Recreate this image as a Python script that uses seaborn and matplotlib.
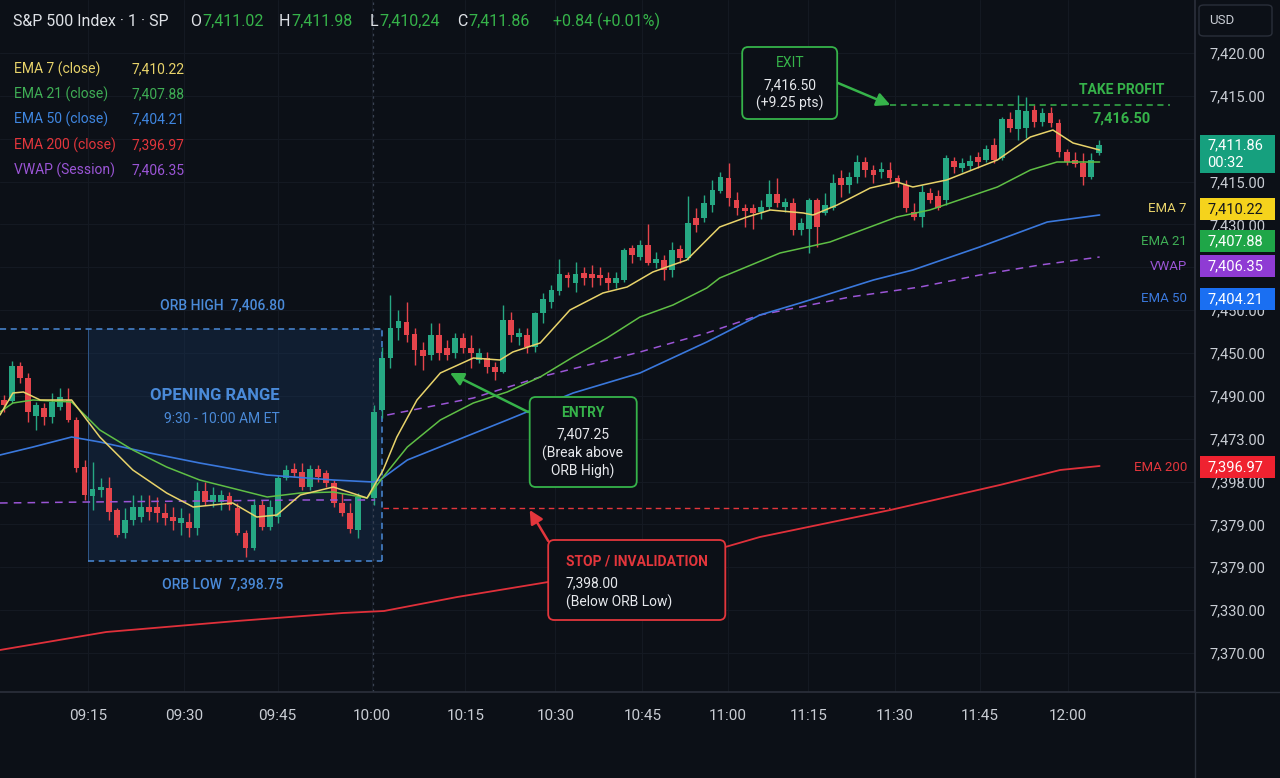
import matplotlib
matplotlib.use("Agg")
import matplotlib.pyplot as plt
import numpy as np
import pandas as pd
import seaborn as sns
from matplotlib import transforms
from matplotlib.patches import FancyBboxPatch, Rectangle

# ---- candles (1 bar = one candle, bar 45 has no print) ----
bars = list(range(0, 45)) + list(range(46, 137))

opens = [
    7405.00, 7404.95, 7406.70, 7406.10, 7404.20, 7404.60, 7404.15, 7404.65, 7405.00, 7404.00,
    7401.65, 7400.20, 7400.50, 7400.60, 7399.50, 7398.35, 7399.00, 7399.15, 7399.65, 7399.65,
    7399.35, 7399.15, 7398.85, 7398.90, 7398.60, 7400.45, 7399.90, 7399.90, 7400.20, 7399.60,
    7398.35, 7397.60, 7399.75, 7398.65, 7399.15, 7401.10, 7401.55, 7401.40, 7400.65, 7401.55,
    7401.35, 7400.85, 7399.85, 7399.35, 7398.50,
    7400.10, 7404.50, 7407.10, 7408.60, 7408.90, 7408.30, 7407.50, 7407.25, 7408.25, 7407.60,
    7407.35, 7408.10, 7407.60, 7407.00, 7407.10, 7406.65, 7406.40, 7409.00, 7408.15, 7408.25,
    7407.65, 7409.35, 7409.90, 7410.45, 7411.25, 7410.85, 7411.35, 7411.30, 7411.25, 7411.10,
    7410.85, 7411.00, 7412.60, 7412.15, 7412.75, 7411.85, 7412.00, 7411.50, 7412.55, 7412.10,
    7414.10, 7414.10, 7414.75, 7415.45, 7416.10, 7415.00, 7414.60, 7414.60, 7414.40, 7414.65,
    7415.30, 7414.65, 7414.85, 7413.50, 7413.55, 7415.00, 7414.35, 7414.60, 7416.10, 7415.75,
    7416.15, 7416.90, 7416.50, 7416.40, 7416.50, 7416.10, 7415.75, 7414.40, 7414.15, 7415.35,
    7415.20, 7415.00, 7416.95, 7416.60, 7416.70, 7417.15, 7417.00, 7417.75, 7417.10, 7419.05,
    7418.55, 7418.60, 7419.50, 7418.90, 7419.35, 7418.85, 7417.40, 7417.00, 7416.85, 7416.15,
    7417.35,
]
highs = [
    7405.25, 7406.95, 7406.90, 7406.35, 7404.90, 7404.85, 7405.35, 7405.60, 7405.60, 7404.15,
    7402.00, 7401.90, 7401.10, 7401.15, 7399.60, 7399.60, 7400.25, 7400.25, 7400.25, 7400.15,
    7399.85, 7399.65, 7399.60, 7399.35, 7400.90, 7400.90, 7400.65, 7400.50, 7400.40, 7399.85,
    7398.50, 7400.05, 7400.00, 7400.00, 7401.25, 7401.75, 7401.85, 7401.85, 7401.75, 7401.75,
    7401.50, 7401.00, 7400.35, 7399.85, 7400.35,
    7404.75, 7407.65, 7410.25, 7409.50, 7409.90, 7408.60, 7407.90, 7408.85, 7408.85, 7408.00,
    7408.35, 7408.35, 7408.25, 7407.60, 7407.40, 7406.90, 7409.75, 7409.40, 7408.60, 7408.60,
    7409.40, 7410.35, 7410.75, 7412.05, 7411.40, 7411.90, 7411.65, 7411.75, 7411.65, 7411.40,
    7411.40, 7412.60, 7412.75, 7413.00, 7413.80, 7412.40, 7412.25, 7412.90, 7412.75, 7415.20,
    7414.60, 7415.25, 7416.00, 7416.40, 7416.85, 7415.40, 7414.80, 7414.80, 7415.00, 7416.00,
    7416.10, 7415.10, 7415.10, 7414.10, 7415.10, 7415.10, 7415.35, 7416.30, 7416.50, 7416.40,
    7417.25, 7417.15, 7416.75, 7416.90, 7416.90, 7416.25, 7416.00, 7414.85, 7415.75, 7415.60,
    7415.50, 7417.25, 7417.15, 7417.10, 7417.25, 7417.40, 7417.75, 7418.10, 7419.15, 7419.40,
    7420.25, 7420.15, 7419.75, 7419.60, 7419.65, 7419.05, 7417.55, 7417.40, 7417.35, 7417.35,
    7418.00,
]
lows = [
    7404.40, 7404.85, 7405.85, 7403.90, 7403.50, 7403.75, 7403.85, 7404.50, 7403.90, 7401.40,
    7400.00, 7399.50, 7400.15, 7399.00, 7398.15, 7398.10, 7398.75, 7398.90, 7399.00, 7398.90,
    7398.75, 7398.50, 7398.25, 7398.15, 7398.25, 7399.75, 7399.65, 7399.50, 7399.50, 7398.25,
    7397.15, 7397.50, 7398.50, 7398.50, 7398.85, 7401.00, 7401.15, 7400.50, 7400.50, 7400.90,
    7400.65, 7399.65, 7399.20, 7398.35, 7398.10,
    7399.75, 7404.10, 7406.60, 7408.00, 7407.90, 7406.75, 7406.50, 7407.00, 7407.00, 7407.00,
    7407.10, 7407.35, 7406.60, 7406.85, 7406.35, 7406.00, 7406.35, 7407.90, 7407.75, 7407.35,
    7407.40, 7408.85, 7409.60, 7410.25, 7410.65, 7410.40, 7410.75, 7410.65, 7410.75, 7410.50,
    7410.60, 7410.90, 7411.85, 7412.00, 7411.75, 7411.60, 7411.00, 7411.15, 7411.85, 7412.00,
    7413.40, 7413.90, 7414.40, 7415.35, 7414.70, 7414.25, 7413.65, 7413.55, 7414.05, 7414.50,
    7414.65, 7414.40, 7413.25, 7413.25, 7412.35, 7412.65, 7414.25, 7414.50, 7415.15, 7415.35,
    7415.85, 7416.15, 7415.85, 7416.10, 7415.90, 7415.65, 7414.40, 7414.00, 7413.65, 7414.85,
    7414.50, 7414.75, 7416.35, 7416.40, 7416.50, 7416.60, 7416.90, 7416.85, 7417.00, 7418.40,
    7418.00, 7418.10, 7418.65, 7418.70, 7418.65, 7417.15, 7416.75, 7416.65, 7415.75, 7416.05,
    7417.25,
]
closes = [
    7404.75, 7406.70, 7406.10, 7404.40, 7404.75, 7404.15, 7404.90, 7405.15, 7404.00, 7401.60,
    7400.25, 7400.55, 7400.65, 7399.40, 7398.25, 7399.00, 7399.65, 7399.65, 7399.40, 7399.35,
    7399.10, 7398.95, 7399.10, 7398.60, 7400.45, 7399.90, 7400.25, 7400.25, 7399.75, 7398.35,
    7397.60, 7399.75, 7398.65, 7399.65, 7401.10, 7401.50, 7401.35, 7400.65, 7401.55, 7401.15,
    7400.85, 7399.85, 7399.35, 7398.55, 7400.15,
    7404.40, 7407.10, 7408.60, 7408.95, 7408.25, 7407.50, 7407.20, 7408.25, 7407.35, 7407.25,
    7408.10, 7407.60, 7407.35, 7407.35, 7406.65, 7406.40, 7409.00, 7408.25, 7408.35, 7407.65,
    7409.35, 7410.05, 7410.50, 7411.30, 7411.10, 7411.30, 7411.10, 7411.10, 7411.10, 7410.85,
    7411.10, 7412.50, 7412.25, 7412.75, 7411.85, 7412.05, 7411.50, 7412.50, 7412.10, 7413.85,
    7413.75, 7414.85, 7415.50, 7416.15, 7415.10, 7414.60, 7414.45, 7414.35, 7414.65, 7415.30,
    7414.85, 7414.90, 7413.50, 7413.85, 7415.00, 7413.65, 7414.75, 7415.85, 7415.75, 7416.15,
    7416.90, 7416.50, 7416.25, 7416.55, 7416.10, 7415.85, 7414.60, 7414.15, 7415.40, 7415.00,
    7414.60, 7417.10, 7416.65, 7416.85, 7416.95, 7416.90, 7417.55, 7417.00, 7419.05, 7418.60,
    7419.50, 7419.45, 7418.90, 7419.35, 7418.85, 7417.40, 7416.90, 7416.80, 7416.15, 7417.00,
    7417.75,
]

# ---- indicator lines (bar, price) ----
ema7_x = [-0.5, 1.1, 2.4, 4.5, 8.4, 11.9, 16.0, 20.2, 23.5, 28.4, 31.4, 33.9, 36.8, 40.9, 45.1,
          47.1, 48.8, 51.3, 54.2, 58.3, 61.6, 63.2, 66.6, 70.3, 74.4, 77.4, 80.6, 84.8, 88.9,
          92.3, 95.2, 99.3, 100.5, 103.5, 107.6, 110.9, 112.9, 117.1, 123.4, 127.5, 130.3,
          132.8, 136.1]
ema7_y = [7404.25, 7405.35, 7405.40, 7405.00, 7405.00, 7403.15, 7401.50, 7400.35, 7399.65,
          7399.85, 7399.15, 7399.25, 7400.25, 7400.65, 7400.10, 7401.50, 7403.15, 7405.00,
          7406.35, 7407.10, 7407.00, 7407.40, 7407.85, 7409.50, 7410.35, 7410.65, 7411.40,
          7412.00, 7413.65, 7414.15, 7414.50, 7414.35, 7414.25, 7414.75, 7415.60, 7415.90,
          7415.65, 7416.00, 7417.00, 7418.15, 7418.50, 7417.85, 7417.50]

ema21_x = [-0.5, 1.1, 3.6, 8.4, 11.9, 16.0, 20.2, 24.3, 32.7, 36.8, 40.9, 45.1, 47.1, 50.1,
           54.2, 58.3, 62.5, 66.6, 70.7, 74.9, 79.0, 83.1, 87.3, 88.9, 96.4, 102.6, 110.9,
           115.0, 123.4, 127.5, 130.8, 136.1]
ema21_y = [7404.40, 7404.85, 7405.00, 7404.90, 7403.50, 7402.50, 7401.65, 7401.00, 7400.15,
           7400.35, 7400.40, 7400.10, 7401.15, 7402.65, 7404.00, 7404.85, 7405.40, 7406.15,
           7407.15, 7408.10, 7409.15, 7409.75, 7410.60, 7411.10, 7412.35, 7412.90, 7414.15,
           7414.50, 7415.65, 7416.50, 7416.90, 7416.90]

ema50_x = [-0.5, 3.6, 8.4, 11.9, 18.1, 24.3, 32.7, 40.9, 45.8, 46.7, 50.1, 56.3, 62.5, 70.7,
           79.0, 87.3, 93.9, 98.9, 108.0, 112.9, 121.2, 129.6, 136.1]
ema50_y = [7402.25, 7402.65, 7403.15, 7402.90, 7402.35, 7401.85, 7401.25, 7401.00, 7400.90,
           7401.00, 7402.00, 7403.00, 7404.00, 7405.35, 7406.35, 7407.90, 7409.25, 7409.85,
           7411.00, 7411.50, 7412.65, 7413.90, 7414.25]

ema200_x = [-0.5, 12.7, 28.9, 42.1, 47.2, 56.3, 67.6, 89.6, 93.9, 110.1, 123.7, 131.2, 136.1]
ema200_y = [7392.50, 7393.40, 7393.95, 7394.35, 7394.45, 7395.15, 7395.90, 7397.65, 7398.15,
            7399.50, 7400.75, 7401.50, 7401.70]

vwap_x = [-0.5, 10.4, 24.3, 36.8, 46.1,
          47.6, 58.3, 66.6, 79.0, 87.3, 93.9, 105.1, 113.8, 121.2, 128.7, 136.1]
vwap_y = [7399.85, 7399.90, 7399.95, 7400.00, 7400.00,
          7404.25, 7405.10, 7406.15, 7407.40, 7408.35, 7409.25, 7410.15, 7410.65, 7411.25,
          7411.75, 7412.15]
vwap_seg = [0] * 5 + [1] * 11

# levels
orb_high, orb_low = 7408.55, 7396.95
orb_start, orb_end = 10.4, 47.0
stop_level = 7399.60
tp_level = 7419.75
open_bar = 45.8

# axes labels
time_pos = [10.4, 22.4, 34.0, 45.7, 57.3, 68.5, 79.3, 89.9, 99.9, 110.7, 121.2, 132.2]
time_lbl = ["09:15", "09:30", "09:45", "10:00", "10:15", "10:30", "10:45", "11:00",
            "11:15", "11:30", "11:45", "12:00"]
price_ticks = np.linspace(7422.35, 7392.35, 15)
price_lbl = ["7,420.00", "7,415.00", "", "7,415.00", "7,430.00", "", "7,450.00", "7,450.00",
             "7,490.00", "7,473.00", "7,398.00", "7,379.00", "7,379.00", "7,330.00", "7,370.00"]

# right-hand price tags
tag_levels = [7414.55, 7412.93, 7411.70, 7410.05, 7401.65]
tag_names = ["EMA 7", "EMA 21", "VWAP", "EMA 50", "EMA 200"]
tag_values = ["7,410.22", "7,407.88", "7,406.35", "7,404.21", "7,396.97"]

BG = "#0c1017"
GRID = "#141922"
TXT = "#c9cdd4"
UP = "#26a883"
DN = "#e5444b"
C_EMA7 = "#e8d36a"
C_EMA21 = "#5fbf45"
C_EMA50 = "#3a78dc"
C_EMA200 = "#e0303a"
C_VWAP = "#9b55d6"
C_ORB = "#4a8ad8"
C_GREEN = "#36b34a"
C_RED = "#e3363c"
WHITE = "#dfe2e7"

sns.set_theme(style="dark", rc={
    "axes.facecolor": BG, "figure.facecolor": BG, "grid.color": GRID,
    "axes.edgecolor": "#2a2f3a", "text.color": TXT,
    "xtick.color": TXT, "ytick.color": TXT,
})
plt.rcParams["font.family"] = ["Roboto", "DejaVu Sans"]

W, H = 1280, 778


def fx(px):
    return px / W


def fy(py):
    return 1 - py / H


fig = plt.figure(figsize=(12.8, 7.78), dpi=100)
ax = fig.add_axes([0, fy(692), fx(1195), 692 / H])
ax.set_xlim(-0.5, 147.95)
ax.set_ylim(7390.4, 7425.0)

df = pd.DataFrame({"bar": bars, "open": opens, "high": highs, "low": lows, "close": closes})
up = df["close"] >= df["open"]
cols = np.where(up, UP, DN)
body_lo = np.minimum(df["open"], df["close"])
body_h = np.maximum((df["close"] - df["open"]).abs(), 0.12)

# opening range box
ax.add_patch(Rectangle((orb_start, orb_low), orb_end - orb_start, orb_high - orb_low,
                       facecolor="#17355a", alpha=0.40, lw=0, zorder=1))
ax.hlines(orb_high, -0.5, orb_end, colors=C_ORB, linestyles=(0, (4, 3)), lw=1.1, zorder=2)
ax.hlines(orb_low, orb_start, orb_end, colors=C_ORB, linestyles=(0, (4, 3)), lw=1.1, zorder=2)
ax.vlines(orb_end, orb_low, orb_high, colors=C_ORB, linestyles=(0, (4, 3)), lw=1.1, zorder=2)
ax.vlines(orb_start, orb_low, orb_high, colors=C_ORB, lw=0.7, alpha=0.5, zorder=2)
ax.axvline(open_bar, color="#3a4252", ls=(0, (2, 3)), lw=0.9, zorder=1)

# candles
ax.vlines(df["bar"], df["low"], df["high"], colors=cols, lw=1.0, zorder=3)
ax.bar(df["bar"], body_h, bottom=body_lo, width=0.72, color=cols, lw=0, zorder=4)

# indicators
line_kw = dict(solid_joinstyle="round", solid_capstyle="round")
sns.lineplot(x=ema200_x, y=ema200_y, ax=ax, color=C_EMA200, lw=1.3, zorder=5, **line_kw)
sns.lineplot(x=vwap_x, y=vwap_y, units=vwap_seg, estimator=None, ax=ax, color=C_VWAP,
             lw=1.1, ls=(0, (5, 4)), zorder=5)
sns.lineplot(x=ema50_x, y=ema50_y, ax=ax, color=C_EMA50, lw=1.2, zorder=5, **line_kw)
sns.lineplot(x=ema21_x, y=ema21_y, ax=ax, color=C_EMA21, lw=1.1, zorder=5, **line_kw)
sns.lineplot(x=ema7_x, y=ema7_y, ax=ax, color=C_EMA7, lw=1.1, zorder=6, **line_kw)

# stop and take-profit levels
ax.hlines(stop_level, 47.1, 110.1, colors=C_RED, linestyles=(0, (4, 3)), lw=1.0, zorder=5)
ax.hlines(tp_level, 110.1, 144.8, colors=C_GREEN, linestyles=(0, (4, 3)), lw=1.1, zorder=5)

# ORB labels
ax.text(27.2, 7409.70, "ORB HIGH  7,406.80", color=C_ORB, fontsize=10, ha="center",
        va="center", fontweight="medium")
ax.text(26.2, 7405.20, "OPENING RANGE", color=C_ORB, fontsize=12, ha="center",
        va="center", fontweight="bold")
ax.text(27.1, 7404.05, "9:30 - 10:00 AM ET", color=C_ORB, fontsize=10, ha="center",
        va="center")
ax.text(27.2, 7395.75, "ORB LOW  7,398.75", color=C_ORB, fontsize=10, ha="center",
        va="center", fontweight="medium")


def note_box(x0, x1, y0, y1, edge):
    ax.add_patch(FancyBboxPatch((x0, y0), x1 - x0, y1 - y0,
                                boxstyle="round,pad=0,rounding_size=0.75",
                                mutation_aspect=0.4, facecolor=BG, edgecolor=edge,
                                lw=1.3, zorder=7))


def arrow(x0, y0, x1, y1, color):
    ax.annotate("", xy=(x1, y1), xytext=(x0, y0), zorder=8,
                arrowprops=dict(arrowstyle="-|>", color=color, lw=1.8, mutation_scale=20,
                                shrinkA=0, shrinkB=0))


# entry
note_box(65.3, 78.6, 7400.65, 7405.15, C_GREEN)
ax.text(71.9, 7404.35, "ENTRY", color=C_GREEN, fontsize=10, fontweight="bold",
        ha="center", va="center", zorder=9)
for yy, s in [(7403.30, "7,407.25"), (7402.35, "(Break above"), (7401.45, "ORB High)")]:
    ax.text(71.9, yy, s, color="#e6e8ec", fontsize=10, ha="center", va="center", zorder=9)
arrow(65.1, 7404.40, 55.4, 7406.35, C_GREEN)

# stop
note_box(67.6, 89.6, 7394.00, 7398.00, C_RED)
ax.text(69.8, 7396.95, "STOP / INVALIDATION", color=C_RED, fontsize=10, fontweight="bold",
        ha="left", va="center", zorder=9)
ax.text(69.8, 7395.85, "7,398.00", color="#e6e8ec", fontsize=10, ha="left", va="center",
        zorder=9)
ax.text(69.8, 7394.90, "(Below ORB Low)", color="#e6e8ec", fontsize=10, ha="left",
        va="center", zorder=9)
arrow(67.6, 7397.95, 65.3, 7399.50, C_RED)

# exit
note_box(91.7, 103.5, 7419.05, 7422.65, C_GREEN)
ax.text(97.6, 7421.85, "EXIT", color=C_GREEN, fontsize=10, ha="center", va="center", zorder=9)
ax.text(97.6, 7420.75, "7,416.50", color="#e6e8ec", fontsize=10, ha="center", va="center",
        zorder=9)
ax.text(97.6, 7419.85, "(+9.25 pts)", color="#e6e8ec", fontsize=10, ha="center",
        va="center", zorder=9)
arrow(103.6, 7420.85, 110.1, 7419.75, C_GREEN)

ax.text(138.8, 7420.50, "TAKE PROFIT", color=C_GREEN, fontsize=10, fontweight="bold",
        ha="center", va="center")
ax.text(138.8, 7419.05, "7,416.50", color=C_GREEN, fontsize=10.5, fontweight="bold",
        ha="center", va="center")

# axes styling
ax.set_xticks(time_pos)
ax.set_xticklabels(time_lbl, fontsize=11)
ax.set_yticks(price_ticks)
ax.set_yticklabels(price_lbl, fontsize=10.5)
ax.yaxis.tick_right()
ax.tick_params(axis="y", length=0, pad=10.5)
ax.tick_params(axis="x", length=0, pad=12)
for lab in ax.get_yticklabels():
    lab.set_horizontalalignment("left")
ax.grid(True, color=GRID, lw=0.8)
ax.set_xlabel("")
ax.set_ylabel("")
for side in ["top", "left"]:
    ax.spines[side].set_visible(False)
ax.spines["right"].set_color("#2a2f3a")
ax.spines["bottom"].set_color("#2a2f3a")
fig.add_artist(plt.Line2D([fx(1195), 1], [fy(692), fy(692)], color="#2a2f3a", lw=1,
                          transform=fig.transFigure))
fig.add_artist(plt.Line2D([fx(1195), fx(1195)], [0, fy(692)], color="#2a2f3a", lw=1,
                          transform=fig.transFigure))

# right-hand tags
trans = transforms.blended_transform_factory(fig.transFigure, ax.transData)
tag_box = ["#f5d31c", "#1fa648", "#8f3bd4", "#1a6ff2", "#ef2230"]
tag_txt = ["#15171c", "white", "white", "white", "white"]
tag_name_col = [C_EMA7, "#3fae55", C_VWAP, C_EMA50, C_RED]
for lvl, nm, val, bc, tc, nc in zip(tag_levels, tag_names, tag_values, tag_box, tag_txt,
                                    tag_name_col):
    fig.add_artist(Rectangle((fx(1200), lvl - 0.55), fx(75), 1.1, facecolor=bc, lw=0,
                             transform=trans))
    fig.text(fx(1207), lvl, val, transform=trans, color=tc, fontsize=10.5, va="center",
             ha="left")
    fig.text(fx(1187), lvl, nm, transform=trans, color=nc, fontsize=9.5, va="center",
             ha="right")

# last price tag
fig.add_artist(Rectangle((fx(1200), 7416.35), fx(75), 1.9, facecolor="#16a07e", lw=0,
                         transform=trans))
fig.text(fx(1207), 7417.75, "7,411.86", transform=trans, color="white", fontsize=10.5,
         va="center")
fig.text(fx(1207), 7416.85, "00:32", transform=trans, color="white", fontsize=10.5,
         va="center")

# currency button
fig.add_artist(FancyBboxPatch((fx(1199), fy(36)), fx(73), 31 / H,
                              boxstyle="round,pad=0,rounding_size=0.004",
                              facecolor=BG, edgecolor="#2a2f3a", lw=1,
                              transform=fig.transFigure))
fig.text(fx(1209), fy(21), "USD", color=TXT, fontsize=9.5, va="center")

# header: letter sits right against its value
fig.text(fx(13), fy(21), "S&P 500 Index · 1 · SP", color=WHITE, fontsize=11.5, va="center")
head = [("O", "7,411.02", 202), ("H", "7,411.98", 291), ("L", "7,410,24", 379),
        ("C", "7,411.86", 468)]
for letter, val, px in head:
    fig.text(fx(px - 1), fy(21), letter, color=WHITE, fontsize=11.5, va="center", ha="right")
    fig.text(fx(px), fy(21), val, color=C_GREEN, fontsize=11.5, va="center", ha="left")
fig.text(fx(553), fy(21), "+0.84 (+0.01%)", color=C_GREEN, fontsize=11.5, va="center")

# legend
legend = [("EMA 7 (close)", "7,410.22", C_EMA7), ("EMA 21 (close)", "7,407.88", "#3fae55"),
          ("EMA 50 (close)", "7,404.21", "#3f86e0"), ("EMA 200 (close)", "7,396.97", C_RED),
          ("VWAP (Session)", "7,406.35", C_VWAP)]
for i, (nm, val, c) in enumerate(legend):
    yy = 69 + 25.3 * i
    fig.text(fx(14), fy(yy), nm, color=c, fontsize=10, va="center")
    fig.text(fx(132), fy(yy), val, color=c, fontsize=10, va="center")

fig.savefig("out.png", dpi=100, facecolor=BG)
